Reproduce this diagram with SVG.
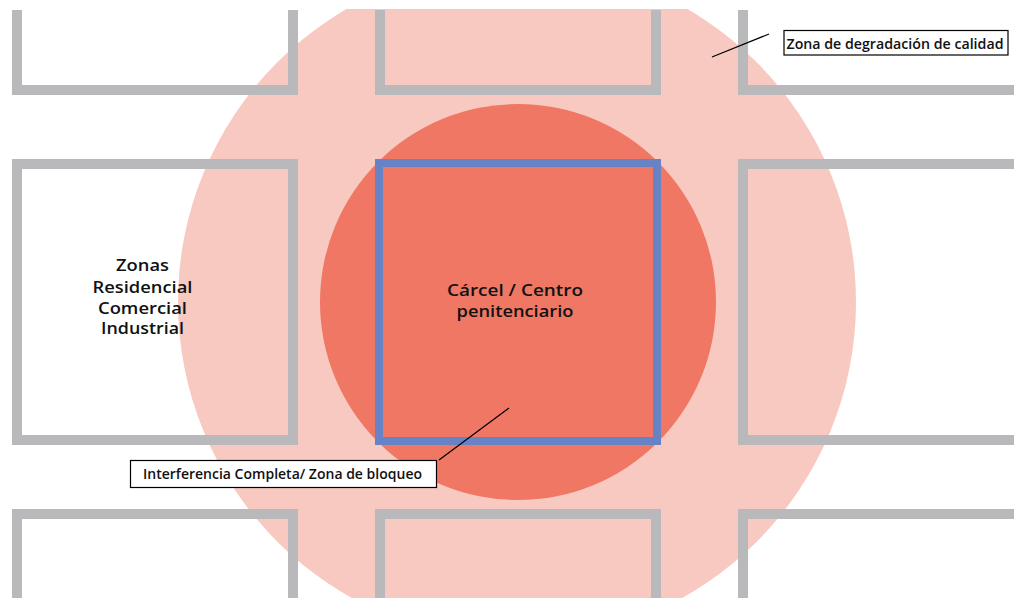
<svg xmlns="http://www.w3.org/2000/svg" width="1014" height="598" viewBox="0 0 1014 598">
<style>
.blk{fill:none;stroke:#B9B9BC;stroke-width:10;stroke-linejoin:miter}
.t{font-family:"Open Sans","DejaVu Sans",sans-serif;fill:#111;font-weight:600}
.lbl{fill:#fff;stroke:#000;stroke-width:1.2}
.lead{stroke:#000;stroke-width:1.2;fill:none}
</style>
<defs>
<clipPath id="clip"><rect x="0" y="9" width="1014" height="589"/></clipPath>
</defs>
<rect width="1014" height="598" fill="#fff"/>
<g clip-path="url(#clip)">
<g id="zona-degradacion"><circle cx="517" cy="302" r="339" fill="#F8C9C1"/></g>
<g id="zona-bloqueo"><circle cx="518" cy="302" r="198" fill="#F07763"/></g>
<g id="blocks">
<path class="blk" d="M17,10V90H293V10"/>
<path class="blk" d="M380,10V90H656V10"/>
<path class="blk" d="M743,10V90H1020"/>
<g id="zonas"><rect class="blk" x="17" y="164" width="276" height="276"/></g>
<path class="blk" d="M1020,164H743V440H1020"/>
<path class="blk" d="M17,600V514H293V600"/>
<path class="blk" d="M380,600V514H656V600"/>
<path class="blk" d="M743,600V514H1020"/>
</g>
</g>
<g id="carcel"><rect x="379" y="163" width="278" height="278" fill="none" stroke="#6783C6" stroke-width="8"/></g>
<g class="t" text-anchor="middle">
<text x="142.5" y="271" font-size="16" textLength="53" lengthAdjust="spacingAndGlyphs">Zonas</text>
<text x="142.5" y="292.5" font-size="16" textLength="100" lengthAdjust="spacingAndGlyphs">Residencial</text>
<text x="142.5" y="313.5" font-size="16" textLength="89" lengthAdjust="spacingAndGlyphs">Comercial</text>
<text x="142.5" y="334" font-size="16" textLength="83" lengthAdjust="spacingAndGlyphs">Industrial</text>
<text x="515" y="296" font-size="16.5" textLength="136" lengthAdjust="spacingAndGlyphs">Cárcel / Centro</text>
<text x="515" y="317" font-size="16.5" textLength="117" lengthAdjust="spacingAndGlyphs">penitenciario</text>
</g>
<g id="connectors">
<line class="lead" x1="712" y1="57" x2="769" y2="34"/>
<line class="lead" x1="439" y1="460" x2="509" y2="408"/>
</g>
<g id="label-degradacion">
<rect class="lbl" x="784" y="30.5" width="224" height="24.5"/>
<text class="t" x="786.5" y="49" font-size="14.5" font-weight="500" textLength="217" lengthAdjust="spacingAndGlyphs">Zona de degradación de calidad</text>
</g>
<g id="label-bloqueo">
<rect class="lbl" x="130.5" y="460.5" width="306" height="27"/>
<text class="t" x="143" y="479" font-size="14.5" font-weight="500" textLength="279" lengthAdjust="spacingAndGlyphs">Interferencia Completa/ Zona de bloqueo</text>
</g>
</svg>
